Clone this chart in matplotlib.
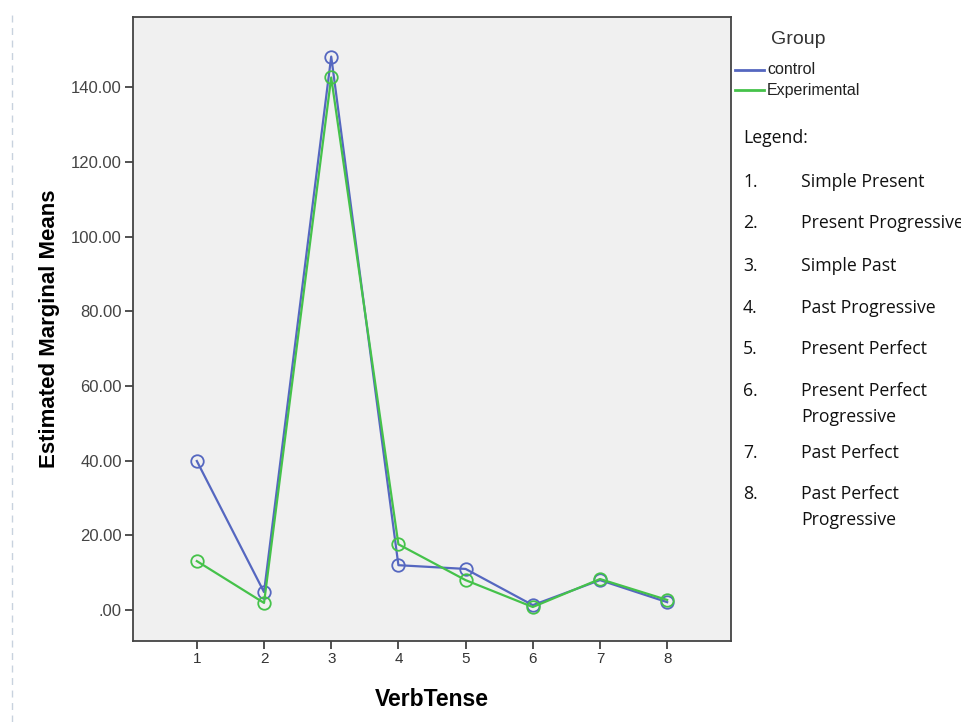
import matplotlib
matplotlib.use("Agg")
import matplotlib.pyplot as plt
from matplotlib.lines import Line2D

tenses = [1, 2, 3, 4, 5, 6, 7, 8]
control = [39.9, 4.8, 148.2, 12.0, 11.0, 1.3, 8.0, 2.1]
experimental = [13.1, 1.9, 142.6, 17.6, 8.0, 0.8, 8.3, 2.7]
yticks = [0, 20, 40, 60, 80, 100, 120, 140]
ytick_labels = [".00", "20.00", "40.00", "60.00", "80.00", "100.00", "120.00", "140.00"]
legend_items = [("1.", "Simple Present"), ("2.", "Present Progressive"), ("3.", "Simple Past"),
                ("4.", "Past Progressive"), ("5.", "Present Perfect"),
                ("6.", "Present Perfect\nProgressive"), ("7.", "Past Perfect"),
                ("8.", "Past Perfect\nProgressive")]

blue = "#5567c0"
green = "#45c24a"

W, H = 961, 722
fig = plt.figure(figsize=(W / 100, H / 100), dpi=100)
fig.patch.set_facecolor("white")
x0, x1, y0, y1 = 133, 731, 17, 641
ax = fig.add_axes([x0 / W, 1 - y1 / H, (x1 - x0) / W, (y1 - y0) / H])
ax.set_facecolor("#f0f0f0")

ax.plot(tenses, control, color=blue, lw=1.6, marker="o", ms=9, mfc="none", mec=blue, mew=1.3)
ax.plot(tenses, experimental, color=green, lw=1.6, marker="o", ms=9, mfc="none", mec=green, mew=1.3)

ax.set_xlim(0.05, 8.95)
ax.set_ylim(-8.3, 158.8)
ax.set_xticks(tenses)
ax.set_xticklabels([str(t) for t in tenses], fontsize=11, family="Liberation Sans", color="#333333")
ax.set_yticks(yticks)
ax.set_yticklabels(ytick_labels, fontsize=12, family="Liberation Sans", color="#444444")
ax.tick_params(direction="out", length=6, width=1.2, color="#333333", pad=2)
for s in ax.spines.values():
    s.set_linewidth(1.3)
    s.set_color("#444444")

ax.set_xlabel("VerbTense", fontsize=16.5, fontweight="bold", family="Liberation Sans", labelpad=16)
ax.set_ylabel("Estimated Marginal Means", fontsize=16, fontweight="bold", family="Liberation Sans", labelpad=8)

# dashed vertical line on the far left
fig.add_artist(Line2D([12 / W, 12 / W], [0, 1 - 15 / H], color="#c8d2de", lw=1, ls=(0, (5, 4))))

# Group legend
fig.text(771 / W, 1 - 39 / H, "Group", fontsize=14, family="Liberation Sans", color="#333333", va="center")
for i, (lab, col) in enumerate([("control", blue), ("Experimental", green)]):
    yy = 1 - (70 + 20 * i) / H
    fig.add_artist(Line2D([735 / W, 764 / W], [yy, yy], color=col, lw=2))
    fig.text(767 / W, yy, lab, fontsize=11.5, family="Liberation Sans", color="#222222", va="center")

fig.text(743 / W, 1 - 138 / H, "Legend:", fontsize=12.7, family="Open Sans", color="#111111", va="center")
ypos = [180, 221, 264, 306, 347, 389, 451, 492]
for (num, name), yp in zip(legend_items, ypos):
    fig.text(743 / W, 1 - (yp - 7) / H, num, fontsize=12.7, family="Open Sans", color="#111111", va="top")
    fig.text(801 / W, 1 - (yp - 7) / H, name, fontsize=12.7, family="Open Sans", color="#111111", va="top",
             linespacing=1.55)

fig.savefig("out.png", dpi=100)
